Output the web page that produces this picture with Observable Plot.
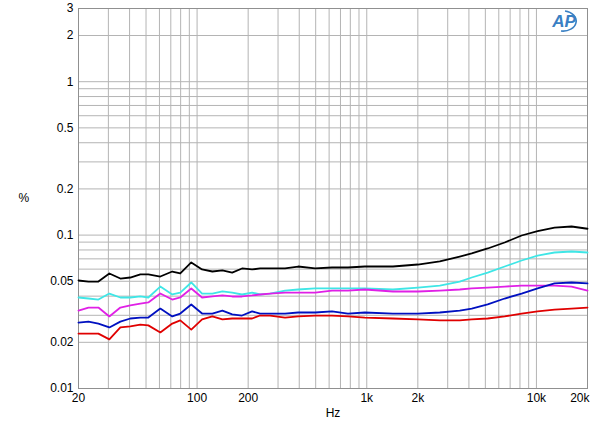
<!DOCTYPE html>
<html>
<head>
<meta charset="utf-8">
<script src="https://cdn.jsdelivr.net/npm/d3@7"></script>
<script src="https://cdn.jsdelivr.net/npm/@observablehq/plot@0.6"></script>
<style>
  html, body { margin: 0; padding: 0; background: #fff; }
  #chart { width: 600px; height: 434px; }
</style>
</head>
<body>
<div id="chart"></div>
<script>
// Frequencies (Hz)
const freqs = [20, 22.9, 26.2, 30.4, 35.3, 40.4, 46.3, 51.6, 60.7, 71.4, 79.6, 92.4, 107, 123, 141, 161, 184, 211, 235, 269, 330, 394, 496, 624, 775, 975, 1426, 2000, 2695, 3532, 4157, 5162, 6498, 8180, 10160, 12790, 16110, 20000];

// THD+N (%) per series
const blackSeries = [0.0506, 0.0498, 0.0498, 0.0562, 0.0521, 0.0529, 0.0554, 0.0554, 0.0537, 0.0579, 0.0562, 0.0663, 0.0597, 0.0579, 0.0588, 0.0570, 0.0606, 0.0597, 0.0606, 0.0606, 0.0606, 0.0624, 0.0606, 0.0615, 0.0615, 0.0624, 0.0624, 0.0643, 0.0673, 0.0725, 0.0759, 0.0818, 0.0895, 0.0994, 0.106, 0.112, 0.1138, 0.110];
const cyanSeries = [0.0392, 0.0386, 0.0380, 0.0416, 0.0392, 0.0392, 0.0398, 0.0392, 0.0462, 0.0410, 0.0422, 0.0491, 0.0416, 0.0416, 0.0429, 0.0422, 0.0410, 0.0422, 0.0410, 0.0416, 0.0435, 0.0442, 0.0449, 0.0449, 0.0449, 0.0449, 0.0442, 0.0455, 0.0469, 0.0498, 0.0529, 0.0570, 0.0624, 0.0683, 0.0736, 0.0770, 0.0782, 0.0770];
const magentaSeries = [0.0322, 0.0337, 0.0337, 0.0295, 0.0337, 0.0348, 0.0358, 0.0364, 0.0416, 0.0380, 0.0392, 0.0449, 0.0392, 0.0398, 0.0404, 0.0398, 0.0398, 0.0404, 0.0410, 0.0416, 0.0422, 0.0422, 0.0422, 0.0435, 0.0435, 0.0442, 0.0429, 0.0429, 0.0435, 0.0442, 0.0449, 0.0455, 0.0462, 0.0469, 0.0469, 0.0469, 0.0462, 0.0435];
const blueSeries = [0.0269, 0.0273, 0.0265, 0.0250, 0.0273, 0.0286, 0.0290, 0.0290, 0.0332, 0.0295, 0.0308, 0.0353, 0.0308, 0.0308, 0.0322, 0.0304, 0.0299, 0.0318, 0.0308, 0.0308, 0.0308, 0.0313, 0.0313, 0.0318, 0.0308, 0.0313, 0.0308, 0.0308, 0.0313, 0.0322, 0.0332, 0.0353, 0.0386, 0.0416, 0.0449, 0.0484, 0.0491, 0.0484];
const redSeries = [0.0228, 0.0228, 0.0228, 0.0209, 0.0250, 0.0254, 0.0261, 0.0258, 0.0232, 0.0265, 0.0278, 0.0242, 0.0282, 0.0295, 0.0282, 0.0286, 0.0286, 0.0286, 0.0299, 0.0299, 0.0290, 0.0295, 0.0299, 0.0299, 0.0295, 0.0290, 0.0286, 0.0282, 0.0278, 0.0278, 0.0282, 0.0286, 0.0295, 0.0308, 0.0318, 0.0327, 0.0332, 0.0337];

// Ticks
const xGridTicks = [20, 30, 40, 50, 60, 70, 80, 90, 100, 200, 300, 400, 500, 600, 700, 800, 900, 1000, 2000, 3000, 4000, 5000, 6000, 7000, 8000, 9000, 10000, 20000];
const xLabelTicks = [20, 50, 100, 200, 500, 1000, 2000, 5000, 10000];
const xLastTick = [20000];
const xTickText = {20: "20", 50: "50", 100: "100", 200: "200", 500: "500", 1000: "1k", 2000: "2k", 5000: "5k", 10000: "10k", 20000: "20k"};
const yGridTicks = [0.01, 0.02, 0.03, 0.04, 0.05, 0.06, 0.07, 0.08, 0.09, 0.1, 0.2, 0.3, 0.4, 0.5, 0.6, 0.7, 0.8, 0.9, 1, 2, 3];
const yLabelTicks = [0.01, 0.02, 0.05, 0.1, 0.2, 0.5, 1, 2, 3];

const seriesList = [
  {values: blackSeries, color: "#000000"},
  {values: cyanSeries, color: "#3fe6e6"},
  {values: magentaSeries, color: "#e020e6"},
  {values: blueSeries, color: "#0010c0"},
  {values: redSeries, color: "#e00000"}
];

const lineMarks = seriesList.map(s =>
  Plot.line(freqs.map((f, i) => ({f, v: s.values[i]})), {x: "f", y: "v", stroke: s.color, strokeWidth: 1.8, strokeLinejoin: "round"})
);

const logo = (index, scales, values, dims) => {
  const g = d3.create("svg:g");
  const cx = dims.width - dims.marginRight - 20, cy = dims.marginTop + 13;
  g.append("path")
    .attr("d", `M ${cx - 6} ${cy + 10} A 13 10 0 1 0 ${cx - 2} ${cy - 10}`)
    .attr("fill", "none").attr("stroke", "#3a80c4").attr("stroke-width", 1.6);
  g.append("text")
    .attr("x", cx - 3).attr("y", cy + 6)
    .attr("text-anchor", "middle")
    .attr("font-size", 17).attr("font-style", "italic").attr("font-weight", "bold")
    .attr("font-family", "Liberation Sans, Arial, sans-serif")
    .attr("fill", "#3a80c4")
    .text("AP");
  return g.node();
};

const chart = Plot.plot({
  width: 600,
  height: 434,
  marginLeft: 78,
  marginRight: 13,
  marginTop: 8,
  marginBottom: 46,
  style: {fontFamily: "Liberation Sans, Arial, sans-serif", fontSize: "12px", background: "#fff", color: "#000"},
  x: {type: "log", domain: [20, 20000], axis: null},
  y: {type: "log", domain: [0.01, 3], axis: null},
  marks: [
    Plot.gridX(xGridTicks, {stroke: "#b4b4b4", strokeOpacity: 1, strokeWidth: 1}),
    Plot.gridY(yGridTicks, {stroke: "#b4b4b4", strokeOpacity: 1, strokeWidth: 1}),
    Plot.frame({stroke: "#909090", strokeWidth: 1}),
    Plot.axisX(xLabelTicks, {tickSize: 0, tickPadding: 5, tickFormat: d => xTickText[d], fontSize: 12, label: null}),
    Plot.text(xLastTick, {x: d => d, frameAnchor: "bottom", dy: 10, lineAnchor: "middle", textAnchor: "end", dx: 2, text: d => xTickText[d], fontSize: 12}),
    Plot.axisY(yLabelTicks, {tickSize: 0, tickPadding: 5, tickFormat: d => String(d), fontSize: 12, label: null}),
    Plot.text(["%"], {frameAnchor: "left", dx: -60, text: d => d, fontSize: 12}),
    Plot.text(["Hz"], {frameAnchor: "bottom", dy: 28, text: d => d, fontSize: 12}),
    ...lineMarks,
    logo
  ]
});

document.getElementById("chart").appendChild(chart);
</script>
</body>
</html>
